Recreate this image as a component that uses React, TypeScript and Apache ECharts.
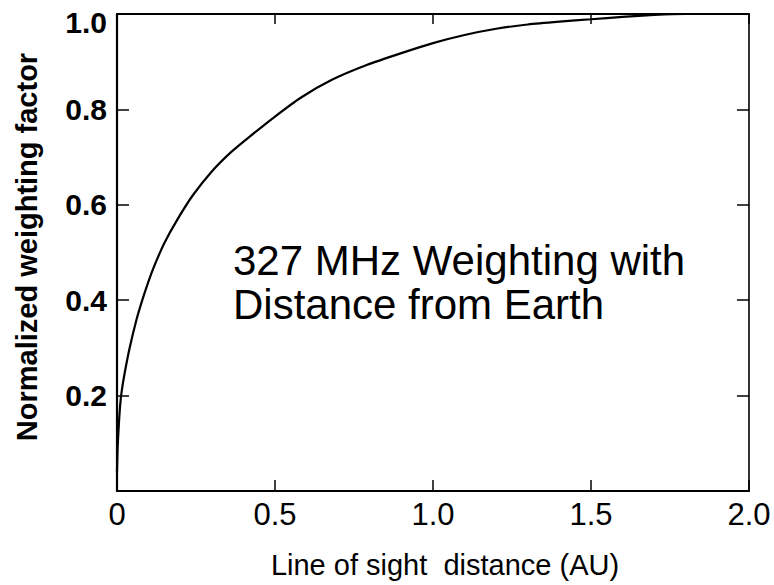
import React, { useEffect, useRef } from "react";
import * as echarts from "echarts";

const distanceAU = [0, 0.002, 0.005, 0.01, 0.015, 0.025, 0.04, 0.06, 0.08, 0.1, 0.12, 0.15, 0.19, 0.24, 0.3, 0.36, 0.42, 0.5, 0.58, 0.68, 0.79, 0.9, 1.0, 1.1, 1.2, 1.3, 1.4, 1.5, 1.6, 1.7, 1.8, 1.9, 2.0];
const weighting = [0.04, 0.09, 0.13, 0.18, 0.21, 0.25, 0.30, 0.355, 0.40, 0.44, 0.475, 0.52, 0.568, 0.62, 0.67, 0.71, 0.743, 0.785, 0.824, 0.862, 0.893, 0.918, 0.939, 0.956, 0.969, 0.978, 0.984, 0.989, 0.994, 0.998, 1.0, 1.0, 1.0];

const xTitle = "Line of sight  distance (AU)";
const yTitle = "Normalized weighting factor";
const annotation = "327 MHz Weighting with\nDistance from Earth";

const FONT = "'Liberation Sans', Arial, Helvetica, sans-serif";

export default function App() {
  const ref = useRef<HTMLDivElement>(null);
  useEffect(() => {
    if (!ref.current) return;
    const chart = echarts.init(ref.current, null, { renderer: "svg" });
    const data = distanceAU.map((x, i) => [x, weighting[i]]);
    const tickStyle = { color: "#000", width: 1.5 };
    chart.setOption({
      animation: false,
      backgroundColor: "#fff",
      grid: { left: 117, right: 25, top: 14, bottom: 94, show: false },
      xAxis: [
        {
          type: "value",
          min: 0,
          max: 2,
          interval: 0.5,
          position: "bottom",
          axisLine: { show: true, onZero: false, lineStyle: { color: "#000", width: 2.2 } },
          axisTick: { show: true, inside: true, length: 11, lineStyle: tickStyle },
          splitLine: { show: false },
          axisLabel: {
            margin: 8,
            color: "#000",
            fontFamily: FONT,
            fontSize: 31,
            formatter: (v: number) => (v === 0 ? "0" : v.toFixed(1)),
          },
          name: xTitle,
          nameLocation: "middle",
          nameGap: 59,
          nameTextStyle: { color: "#000", fontFamily: FONT, fontSize: 29, padding: [0, 0, 0, 24] },
        },
        {
          type: "value",
          min: 0,
          max: 2,
          interval: 0.5,
          position: "top",
          axisLine: { show: true, onZero: false, lineStyle: { color: "#000", width: 2 } },
          axisTick: { show: true, inside: true, length: 10, lineStyle: tickStyle },
          splitLine: { show: false },
          axisLabel: { show: false },
        },
      ],
      yAxis: [
        {
          type: "value",
          min: 0,
          max: 1,
          interval: 0.2,
          position: "left",
          axisLine: { show: true, onZero: false, lineStyle: { color: "#000", width: 2.2 } },
          axisTick: { show: true, inside: true, length: 12, lineStyle: tickStyle },
          splitLine: { show: false },
          axisLabel: {
            margin: 10,
            color: "#000",
            fontFamily: FONT,
            fontSize: 30,
            fontWeight: "bold",
            formatter: (v: number) => (v === 0 ? "" : v === 1 ? "{t|1.0}" : v.toFixed(1)),
            rich: {
              t: { fontFamily: FONT, fontSize: 30, fontWeight: "bold", color: "#000", padding: [16, 0, 0, 0] },
            },
          },
        },
        {
          type: "value",
          min: 0,
          max: 1,
          interval: 0.2,
          position: "right",
          axisLine: { show: true, onZero: false, lineStyle: { color: "#000", width: 1.6 } },
          axisTick: { show: true, inside: true, length: 12, lineStyle: tickStyle },
          splitLine: { show: false },
          axisLabel: { show: false },
        },
      ],
      series: [
        {
          type: "line",
          xAxisIndex: 0,
          yAxisIndex: 0,
          data,
          showSymbol: false,
          smooth: 0.2,
          lineStyle: { color: "#000", width: 2.2 },
        },
      ],
      graphic: [
        {
          type: "text",
          x: 27,
          y: 247,
          rotation: Math.PI / 2,
          style: {
            text: yTitle,
            fill: "#000",
            font: `bold 29px ${FONT}`,
            textAlign: "center",
            textVerticalAlign: "middle",
          },
        },
        {
          type: "text",
          x: 233,
          y: 238,
          style: {
            text: annotation,
            fill: "#000",
            font: `42px ${FONT}`,
            lineHeight: 44,
            textAlign: "left",
            textVerticalAlign: "top",
          },
        },
      ],
    });
    return () => chart.dispose();
  }, []);
  return (
    <div
      ref={ref}
      style={{ position: "fixed", left: 0, top: 0, width: 774, height: 585, background: "#fff" }}
    />
  );
}
